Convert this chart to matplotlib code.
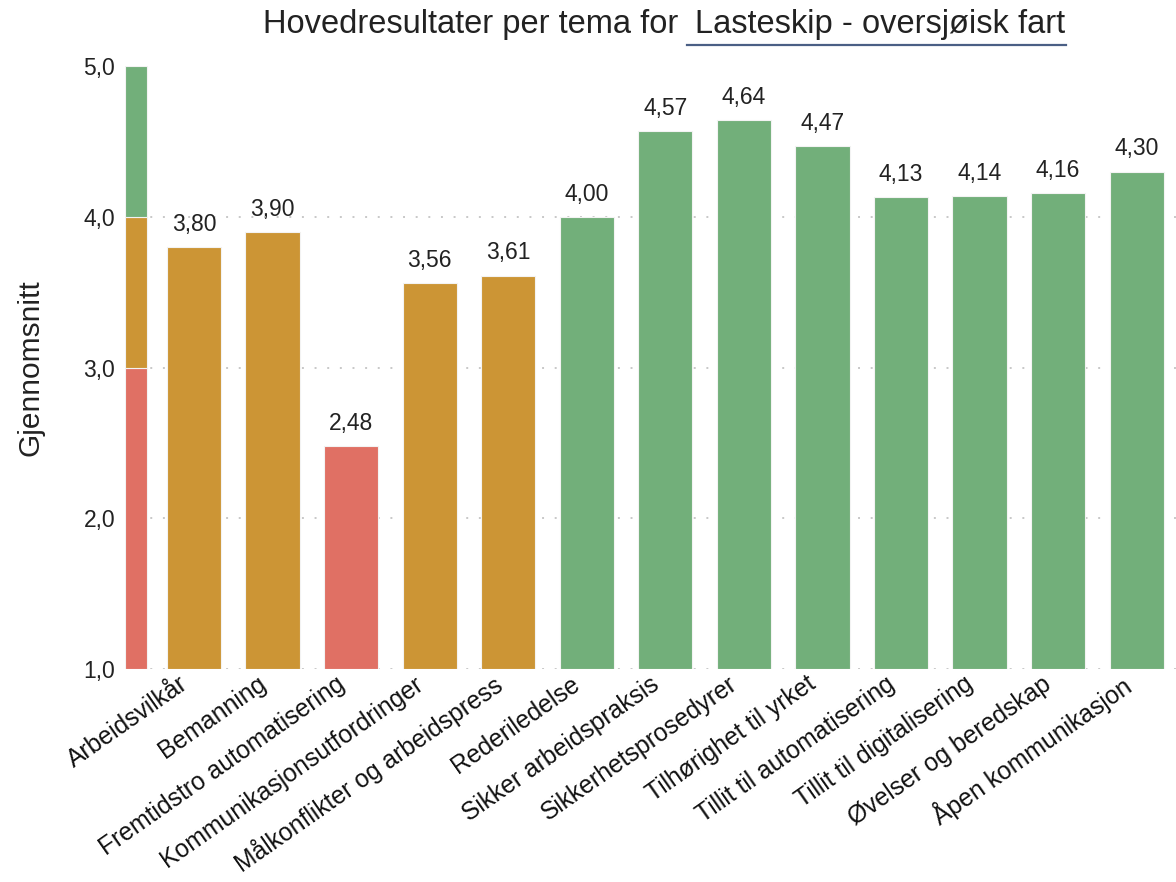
import matplotlib.pyplot as plt
import matplotlib.transforms as mtransforms
from matplotlib.lines import Line2D

plt.rcParams['font.family'] = ['Liberation Sans', 'DejaVu Sans']

temaer = ['Arbeidsvilkår', 'Bemanning', 'Fremtidstro automatisering',
          'Kommunikasjonsutfordringer', 'Målkonflikter og arbeidspress',
          'Rederiledelse', 'Sikker arbeidspraksis', 'Sikkerhetsprosedyrer',
          'Tilhørighet til yrket', 'Tillit til automatisering',
          'Tillit til digitalisering', 'Øvelser og beredskap',
          'Åpen kommunikasjon']
snitt = [3.80, 3.90, 2.48, 3.56, 3.61, 4.00, 4.57, 4.64, 4.47, 4.13, 4.14, 4.16, 4.30]

# fargeskala: rod under 3, gul 3-4, gronn fra 4
skala_fra = [1.0, 3.0, 4.0]
skala_til = [3.0, 4.0, 5.0]
RED = '#E07064'
ORANGE = '#CC9535'
GREEN = '#72AF7A'
skala_farger = [RED, ORANGE, GREEN]


def farge(v):
    if v < 3.0:
        return RED
    if v < 4.0:
        return ORANGE
    return GREEN


fig = plt.figure(figsize=(11.76, 8.82), dpi=100)
ax = fig.add_axes([125 / 1176, 1 - 669 / 882, 1 - 125 / 1176, 603 / 882])

x = list(range(len(temaer)))
ax.bar(x, [v - 1.0 for v in snitt], bottom=1.0, width=0.69,
       color=[farge(v) for v in snitt], edgecolor='#f3f3f3', linewidth=0.8, zorder=3)

# skala-stolpe helt til venstre
for lo, hi, c in zip(skala_fra, skala_til, skala_farger):
    ax.bar(-0.738, hi - lo, bottom=lo, width=0.28, color=c,
           edgecolor='#f3f3f3', linewidth=0.8, zorder=3)

for xi, v in zip(x, snitt):
    ax.annotate(f'{v:.2f}'.replace('.', ','), (xi, v), xytext=(0, 8),
                textcoords='offset points', ha='center', va='bottom',
                fontsize=16.5, color='#222222')

ax.set_xlim(-0.878, 12.5)
ax.set_ylim(1.0, 5.0)
ax.set_yticks([1, 2, 3, 4, 5])
ax.set_yticklabels(['1,0', '2,0', '3,0', '4,0', '5,0'], fontsize=16.5, color='#222222')
ax.set_xticks(x)
ax.set_xticklabels(temaer, rotation=35, ha='right', va='top',
                   rotation_mode='anchor', fontsize=17.8, color='#111111')
ax.tick_params(axis='both', length=0)
ax.tick_params(axis='y', pad=7)
ax.tick_params(axis='x', pad=2)

# flytt kategori-tekstene litt mot venstre
skift = mtransforms.ScaledTranslation(-16 / 100, 0, fig.dpi_scale_trans)
for lbl in ax.get_xticklabels():
    lbl.set_transform(lbl.get_transform() + skift)

for g in [1, 2, 3, 4]:
    ax.axhline(g, color='#c8c8c8', linestyle=(0, (1, 5.5)), linewidth=1.4, zorder=1)

for s in ax.spines.values():
    s.set_visible(False)

ax.set_ylabel('Gjennomsnitt', fontsize=21.5, color='#222222', labelpad=28)

# tittel med understreket utvalg
fig.text(678 / 1176, 1 - 33 / 882, 'Hovedresultater per tema for', ha='right',
         va='baseline', fontsize=23.5, color='#222222')
fig.text(695 / 1176, 1 - 33 / 882, 'Lasteskip - oversjøisk fart', ha='left',
         va='baseline', fontsize=23.5, color='#222222')
fig.add_artist(Line2D([687 / 1176, 1066 / 1176], [1 - 45 / 882, 1 - 45 / 882],
                      color='#4A5F85', linewidth=1.6, transform=fig.transFigure))

fig.savefig('out.png', dpi=100)
